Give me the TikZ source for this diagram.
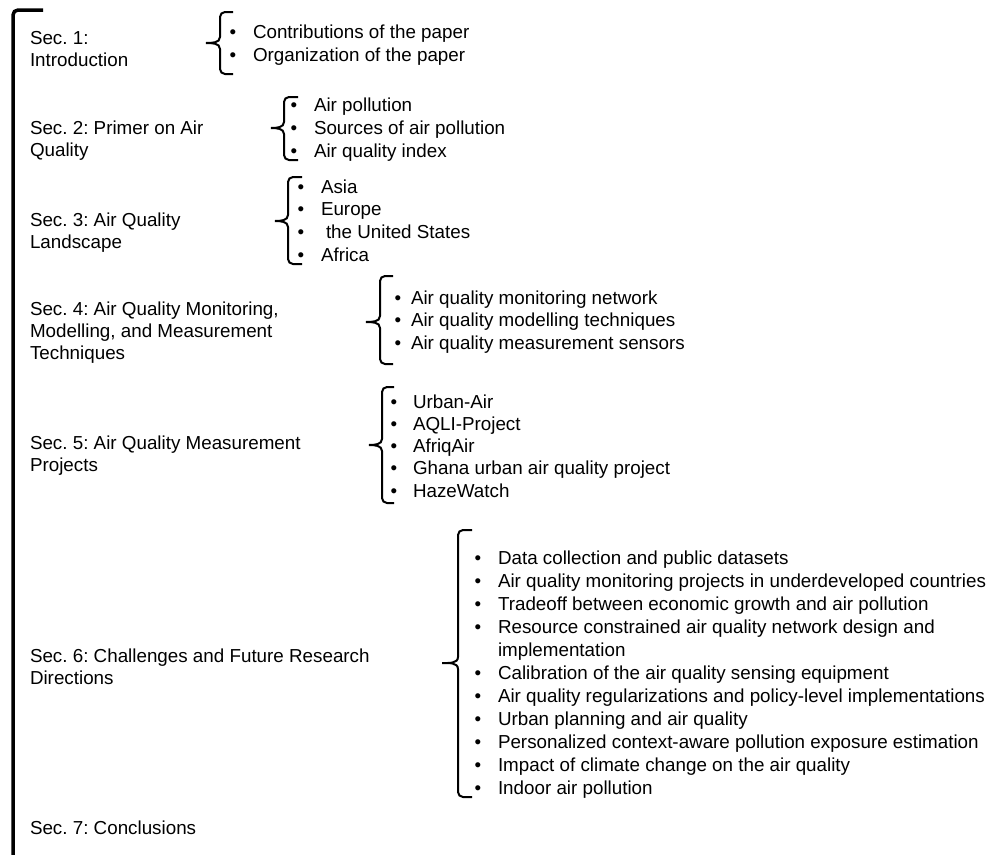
\documentclass[tikz,border=0pt]{standalone}
\usepackage{fontspec}
\setmainfont{Liberation Sans}
\frenchspacing
\newcommand\drawbrace[6]{% tip x, vertical x, hook x, top y, bottom y, tip y
  \draw[brc] (#3,#4) -- (#2+5,#4) to[out=180,in=90] (#2,#4+5) -- (#2,#6-6)
    to[out=270,in=0] (#1,#6) to[out=0,in=90] (#2,#6+6) -- (#2,#5-5)
    to[out=270,in=180] (#2+5,#5) -- (#3,#5);}
\begin{document}
\begin{tikzpicture}[x=1pt,y=-1pt,
  every node/.style={inner sep=0pt,outer sep=0pt,font=\fontsize{18.8}{22}\selectfont},
  lbl/.style={anchor=base west},
  itm/.style={anchor=base west},
  blt/.style={anchor=base},
  frame/.style={line width=3.5pt,rounded corners=5pt},
  brc/.style={line width=2pt}]
\useasboundingbox (0,0) rectangle (993,854);
% main bracket
\draw[frame] (43,10) -- (13,10) -- (13,870);
% section labels
\node[lbl] (s1a) at (30,44) {Sec. 1:};
\node[lbl] (s1b) at (30,66) {Introduction};
\node[lbl] (s2a) at (30,134) {Sec. 2: Primer on Air};
\node[lbl] (s2b) at (30,156) {Quality};
\node[lbl] (s3a) at (30,226) {Sec. 3: Air Quality};
\node[lbl] (s3b) at (30,248) {Landscape};
\node[lbl] (s4a) at (30,315) {Sec. 4: Air Quality Monitoring,};
\node[lbl] (s4b) at (30,337) {Modelling, and Measurement};
\node[lbl] (s4c) at (30,359) {Techniques};
\node[lbl] (s5a) at (30,449) {Sec. 5: Air Quality Measurement};
\node[lbl] (s5b) at (30,471) {Projects};
\node[lbl] (s6a) at (30,662) {Sec. 6: Challenges and Future Research};
\node[lbl] (s6b) at (30,684) {Directions};
\node[lbl] (s7a) at (30,834) {Sec. 7: Conclusions};
% braces
\drawbrace{206}{220}{233}{12}{74}{43}
\drawbrace{271}{284}{298}{97}{160}{128}
\drawbrace{275}{288}{302}{177}{264}{221}
\drawbrace{366}{380}{393}{276}{364}{322}
\drawbrace{369}{382}{394}{387}{503}{445}
\drawbrace{442}{458}{472}{530}{797}{663}
% lists
\foreach \t [count=\i] in {Contributions of the paper,Organization of the paper}{
  \node[blt] (b1\i) at (233,38+23*\i-23) {•};
  \node[itm] (t1\i) at (253,38+23*\i-23) {\t};}
\foreach \t [count=\i] in {Air pollution,Sources of air pollution,Air quality index}{
  \node[blt] (b2\i) at (294,111+23*\i-23) {•};
  \node[itm] (t2\i) at (314,111+23*\i-23) {\t};}
\foreach \t [count=\i] in {Asia,Europe,\hspace{5pt}the United States,Africa}{
  \node[blt] (b3\i) at (301,193+22.7*\i-22.7) {•};
  \node[itm] (t3\i) at (321,193+22.7*\i-22.7) {\t};}
\foreach \t [count=\i] in {Air quality monitoring network,Air quality modelling techniques,Air quality measurement sensors}{
  \node[blt] (b4\i) at (398,304+22.5*\i-22.5) {•};
  \node[itm] (t4\i) at (411,304+22.5*\i-22.5) {\t};}
\foreach \t [count=\i] in {Urban-Air,AQLI-Project,AfriqAir,Ghana urban air quality project,HazeWatch}{
  \node[blt] (b5\i) at (394,408+22.25*\i-22.25) {•};
  \node[itm] (t5\i) at (413,408+22.25*\i-22.25) {\t};}
\foreach \t [count=\i] in {Data collection and public datasets,
  Air quality monitoring projects in underdeveloped countries,
  Tradeoff between economic growth and air pollution,
  Resource constrained air quality network design and}{
  \node[blt] (b6\i) at (478,564+23*\i-23) {•};
  \node[itm] (t6\i) at (498,564+23*\i-23) {\t};}
\node[itm] (t6w) at (498,656) {implementation};
\foreach \t [count=\i] in {Calibration of the air quality sensing equipment,
  Air quality regularizations and policy-level implementations,
  Urban planning and air quality,
  Personalized context-aware pollution exposure estimation,
  Impact of climate change on the air quality,
  Indoor air pollution}{
  \node[blt] (c6\i) at (478,679+23*\i-23) {•};
  \node[itm] (u6\i) at (498,679+23*\i-23) {\t};}
\end{tikzpicture}
\end{document}
